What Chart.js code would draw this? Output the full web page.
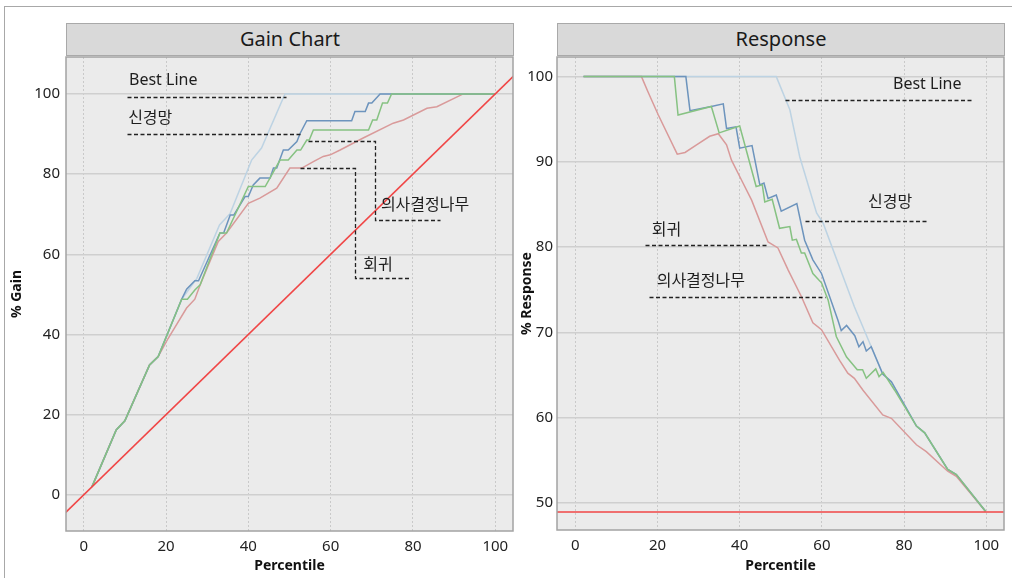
<!DOCTYPE html>
<html>
<head>
<meta charset="utf-8">
<script src="https://cdn.jsdelivr.net/npm/chart.js@4.4.1/dist/chart.umd.min.js"></script>
<style>
  html, body { margin: 0; padding: 0; background: #fff; }
  body { width: 1012px; height: 578px; position: relative; overflow: hidden;
         font-family: 'Noto Sans', 'Noto Sans CJK KR', sans-serif; }
  .frame { position: absolute; left: 4px; top: 6px; width: 1100px; height: 700px;
           border-left: 1px solid #a8a8a8; border-top: 1px solid #a8a8a8; }
  .head { position: absolute; top: 23px; height: 33px; box-sizing: border-box;
          background: #d9d9d9; border: 1px solid #a9a9a9; text-align: center;
          font-size: 20px; line-height: 30px; color: #1a1a1a; }
  .box { position: absolute; top: 50px; height: 528px; }
</style>
</head>
<body>
<div class="frame"></div>
<div class="head" style="left:66px; width:448px;">Gain Chart</div>
<div class="head" style="left:557px; width:448px;">Response</div>
<div class="box" style="left:0; width:520px;"><canvas id="gainChart"></canvas></div>
<div class="box" style="left:515px; width:497px;"><canvas id="responseChart"></canvas></div>

<script>
// ---------- 데이터: Gain Chart (percentile, % gain) ----------
const percentileTicks = [0, 20, 40, 60, 80, 100];
const gainTicks = [0, 20, 40, 60, 80, 100];
const responseTicks = [50, 60, 70, 80, 90, 100];

const gainBest = [[2,2],[7.9,16.2],[10,18.5],[16,32.4],[18.1,34.5],[23.8,48.8],[27.5,54.0],
  [33,67.3],[35.6,70.2],[40.8,83.5],[43.2,86.5],[48.9,100],[100,100]];
const gainNeural = [[2,2],[7.9,16.2],[10,18.5],[16,32.4],[18.1,34.5],[23.8,48.8],[25,51.3],
  [27,53.4],[27.9,53.4],[33.1,65.3],[34,65.3],[35.6,69.8],[36.5,69.8],[39.2,74.4],[40,74.4],
  [41.2,77.3],[42.8,79.0],[45.3,79.0],[46.1,81.5],[46.9,81.5],[48.5,86.0],[49.7,86.0],
  [51.8,88.1],[52.6,90.2],[54.2,93.3],[65.1,93.3],[65.9,95.6],[68.4,95.6],[69.2,97.7],
  [70,97.7],[72,100],[100,100]];
const gainTree = [[2,2],[7.9,16.2],[10,18.5],[16,32.4],[18.1,34.5],[23.8,48.8],[25.2,48.8],
  [27,51.1],[28.3,52.4],[33.1,65.3],[34.7,65.3],[40,76.9],[44.1,76.9],[47.7,83.5],[49.7,83.5],
  [51.8,86.0],[52.7,86.0],[54.2,88.5],[54.8,88.5],[55.8,91.0],[69.2,91.0],[70.2,93.5],
  [71.2,93.5],[72.6,97.7],[73.8,97.7],[74.8,100],[100,100]];
const gainRegression = [[2,2],[7.9,16.2],[10,18.5],[16,32.4],[18.1,34.5],[20.5,39],[25,46.6],
  [27,48.8],[28.3,52.4],[32.7,63.2],[34.7,65.3],[40,72.7],[42.8,74.0],[46.9,76.5],[50.1,81.5],
  [53,81.5],[55.8,83.1],[58.2,84.4],[59.9,84.8],[62.3,86.0],[67.9,89.0],[75.2,92.7],
  [77.7,93.5],[83.4,96.4],[85.8,96.8],[92.2,100],[100,100]];
const gainRandom = [[-10,-10],[110,110]];

// ---------- 데이터: Response (percentile, % response) ----------
const respBest = [[2,100],[48.9,100],[52.2,96.1],[54.6,90.6],[58.7,84.0],[60.3,82.8],[65.1,76.6],
  [67.9,73.0],[72,68.3],[74.8,65.1],[76.9,64.2],[83,59.0],[85,58.2],[90.6,53.9],[92.7,53.3],[99.8,49.0]];
const respNeural = [[2,100],[26.9,100],[27.9,96.0],[33.1,96.5],[36,96.8],[36.8,93.9],[39.1,94.1],
  [40,91.6],[43,91.9],[44.9,87.3],[45.9,87.5],[46.9,85.7],[48.9,86.1],[50.1,84.2],[53.9,85.1],
  [55.8,80.8],[57.8,78.5],[59.9,76.9],[63.9,71.4],[64.7,70.2],[66,70.8],[68,69.6],[69,68.3],
  [70,68.9],[70.8,67.8],[72,68.3],[74.8,65.1],[76.9,64.2],[83,59.0],[85,58.2],[90.6,53.9],
  [92.7,53.3],[99.8,49.0]];
const respTree = [[2,100],[24.1,100],[25,95.5],[33.1,96.5],[35,93.4],[40,94.2],[44,87.1],
  [45.5,87.3],[46.1,85.3],[47.9,85.6],[49.7,82.2],[52.2,82.4],[52.8,80.8],[53.8,80.9],[55,79.3],
  [55.8,79.3],[57.8,76.9],[59.9,75.8],[61.5,73.8],[63.5,69.5],[66,67.1],[68.6,65.6],[69.9,65.6],
  [70.8,64.6],[73.1,65.7],[73.9,64.8],[74.9,65.3],[77.7,63.2],[83,59.0],[85,58.2],[90.6,53.9],
  [92.7,53.3],[99.8,49.0]];
const respRegression = [[2,100],[16.1,100],[17.7,98.2],[20.2,95.5],[24.8,90.9],[26.7,91.1],
  [29.5,92.0],[32.7,93.0],[34.8,93.3],[36.8,92.0],[38,90.2],[40.4,87.9],[42.9,85.5],[46.9,80.6],
  [49.3,79.9],[51.8,77.3],[55,74.2],[57.8,71.1],[59.9,70.3],[64.3,66.7],[66.3,65.2],[67.9,64.6],
  [70,63.2],[74.8,60.3],[76.9,59.9],[83,56.8],[85.4,56.0],[90.6,53.7],[92.7,53.1],[99.8,49.0]];
const respBase = [[-10,48.9],[110,48.9]];

// ---------- 라벨 (데이터 좌표) ----------
const gainCallouts = [
  { text: 'Best Line', at: [11.0, 103.3], path: [[10.5,99.3],[49.2,99.3]] },
  { text: '신경망', at: [10.8, 93.9], path: [[10.5,89.9],[52.6,89.9]] },
  { text: '의사결정나무', at: [72.2, 72.3], path: [[54.6,88.3],[70.8,88.3],[70.8,68.6],[86.6,68.6]] },
  { text: '회귀', at: [67.9, 57.2], path: [[52.6,81.5],[65.9,81.5],[65.9,54.2],[79.1,54.2]] }
];
const responseCallouts = [
  { text: 'Best Line', at: [77.3, 99.1], path: [[51.1,97.3],[96.3,97.3]] },
  { text: '신경망', at: [71.2, 85.2], path: [[55.8,83.1],[85.8,83.1]] },
  { text: '회귀', at: [18.6, 82.0], path: [[16.9,80.2],[46.9,80.2]] },
  { text: '의사결정나무', at: [19.8, 76.0], path: [[18.0,74.1],[60.7,74.1]] }
];

const FONT = "'Noto Sans', 'Noto Sans CJK KR', sans-serif";
const toXY = arr => arr.map(p => ({ x: p[0], y: p[1] }));

// 배경 + 테두리
const panelFrame = {
  id: 'panelFrame',
  beforeDraw(chart) {
    const { ctx, chartArea: a } = chart;
    ctx.save();
    ctx.fillStyle = '#ebebeb';
    ctx.fillRect(a.left, a.top, a.width, a.height);
    ctx.restore();
  },
  afterDraw(chart) {
    const { ctx, chartArea: a } = chart;
    ctx.save();
    ctx.strokeStyle = '#a3a3a3';
    ctx.lineWidth = 1.5;
    ctx.strokeRect(a.left, a.top, a.width, a.height);
    ctx.restore();
  }
};

// 점선 라벨
const callouts = {
  id: 'callouts',
  afterDatasetsDraw(chart, args, opts) {
    const { ctx } = chart;
    const xs = chart.scales.x, ys = chart.scales.y;
    ctx.save();
    (opts.items || []).forEach(c => {
      ctx.setLineDash([4, 2.5]);
      ctx.strokeStyle = '#222';
      ctx.lineWidth = 1.3;
      ctx.beginPath();
      c.path.forEach((p, i) => {
        const px = Math.round(xs.getPixelForValue(p[0])) + 0.5;
        const py = Math.round(ys.getPixelForValue(p[1])) + 0.5;
        if (i === 0) ctx.moveTo(px, py); else ctx.lineTo(px, py);
      });
      ctx.stroke();
      ctx.setLineDash([]);
      ctx.fillStyle = '#1e1e1e';
      ctx.font = '16px ' + FONT;
      ctx.textAlign = 'left';
      ctx.textBaseline = 'middle';
      ctx.fillText(c.text, xs.getPixelForValue(c.at[0]), ys.getPixelForValue(c.at[1]));
    });
    ctx.restore();
  }
};

function line(data, color, order, width) {
  return {
    data: toXY(data),
    borderColor: color,
    borderWidth: width || 1.5,
    pointRadius: 0,
    tension: 0,
    fill: false,
    order: order
  };
}

function semPadding(s) {
  s.paddingTop = 0; s.paddingBottom = 0; s.paddingLeft = 0; s.paddingRight = 0;
}

function criarPainel(id, datasets, cfg) {
  return new Chart(document.getElementById(id), {
    type: 'line',
    data: { datasets: datasets },
    options: {
      responsive: true,
      maintainAspectRatio: false,
      animation: false,
      layout: { padding: { top: 7, right: cfg.padRight, left: 0, bottom: 0 } },
      plugins: {
        legend: { display: false },
        tooltip: { enabled: false },
        callouts: { items: cfg.callouts }
      },
      scales: {
        x: {
          type: 'linear',
          min: cfg.xMin, max: cfg.xMax,
          afterBuildTicks: s => { s.ticks = percentileTicks.map(v => ({ value: v })); },
          afterFit: s => { s.height = cfg.xHeight; semPadding(s); },
          ticks: { padding: 7, color: '#222', font: { size: 15, family: FONT } },
          grid: { color: '#c9c9c9', lineWidth: 1, drawTicks: false },
          border: { display: false, dash: [2, 2] },
          title: { display: true, text: 'Percentile', color: '#111',
                   font: { size: 14, weight: 'bold', family: FONT }, padding: { top: 0, bottom: 4 } }
        },
        y: {
          type: 'linear',
          min: cfg.yMin, max: cfg.yMax,
          afterBuildTicks: s => { s.ticks = cfg.yTicks.map(v => ({ value: v })); },
          afterFit: s => { s.width = cfg.yWidth; semPadding(s); },
          ticks: { padding: cfg.yPad, color: '#222', font: { size: 15, family: FONT } },
          grid: { color: '#cfcfcf', lineWidth: 1.5, drawTicks: false },
          border: { display: false },
          title: { display: true, text: cfg.yTitle, color: '#111',
                   font: { size: 14, weight: 'bold', family: FONT }, padding: { top: cfg.yTitlePad } }
        }
      }
    },
    plugins: [panelFrame, callouts]
  });
}

criarPainel('gainChart', [
  line(gainRandom, '#f04646', 0),
  line(gainTree, '#86c282', 1),
  line(gainNeural, '#6d94bd', 2),
  line(gainRegression, '#d99a9a', 3),
  line(gainBest, '#bdd3e3', 4)
], {
  xMin: -4.3, xMax: 104.3, yMin: -9, yMax: 109.2, yTicks: gainTicks,
  yWidth: 66, xHeight: 47, padRight: 7, yPad: 6, yTitle: '% Gain', yTitlePad: 9,
  callouts: gainCallouts
});

criarPainel('responseChart', [
  line(respBase, '#f04646', 0),
  line(respTree, '#86c282', 1),
  line(respNeural, '#6d94bd', 2),
  line(respRegression, '#d99a9a', 3),
  line(respBest, '#bdd3e3', 4)
], {
  xMin: -4.45, xMax: 104.3, yMin: 46.8, yMax: 102.3, yTicks: responseTicks,
  yWidth: 42, xHeight: 48, padRight: 8, yPad: 4, yTitle: '% Response', yTitlePad: 4,
  callouts: responseCallouts
});
</script>
</body>
</html>
